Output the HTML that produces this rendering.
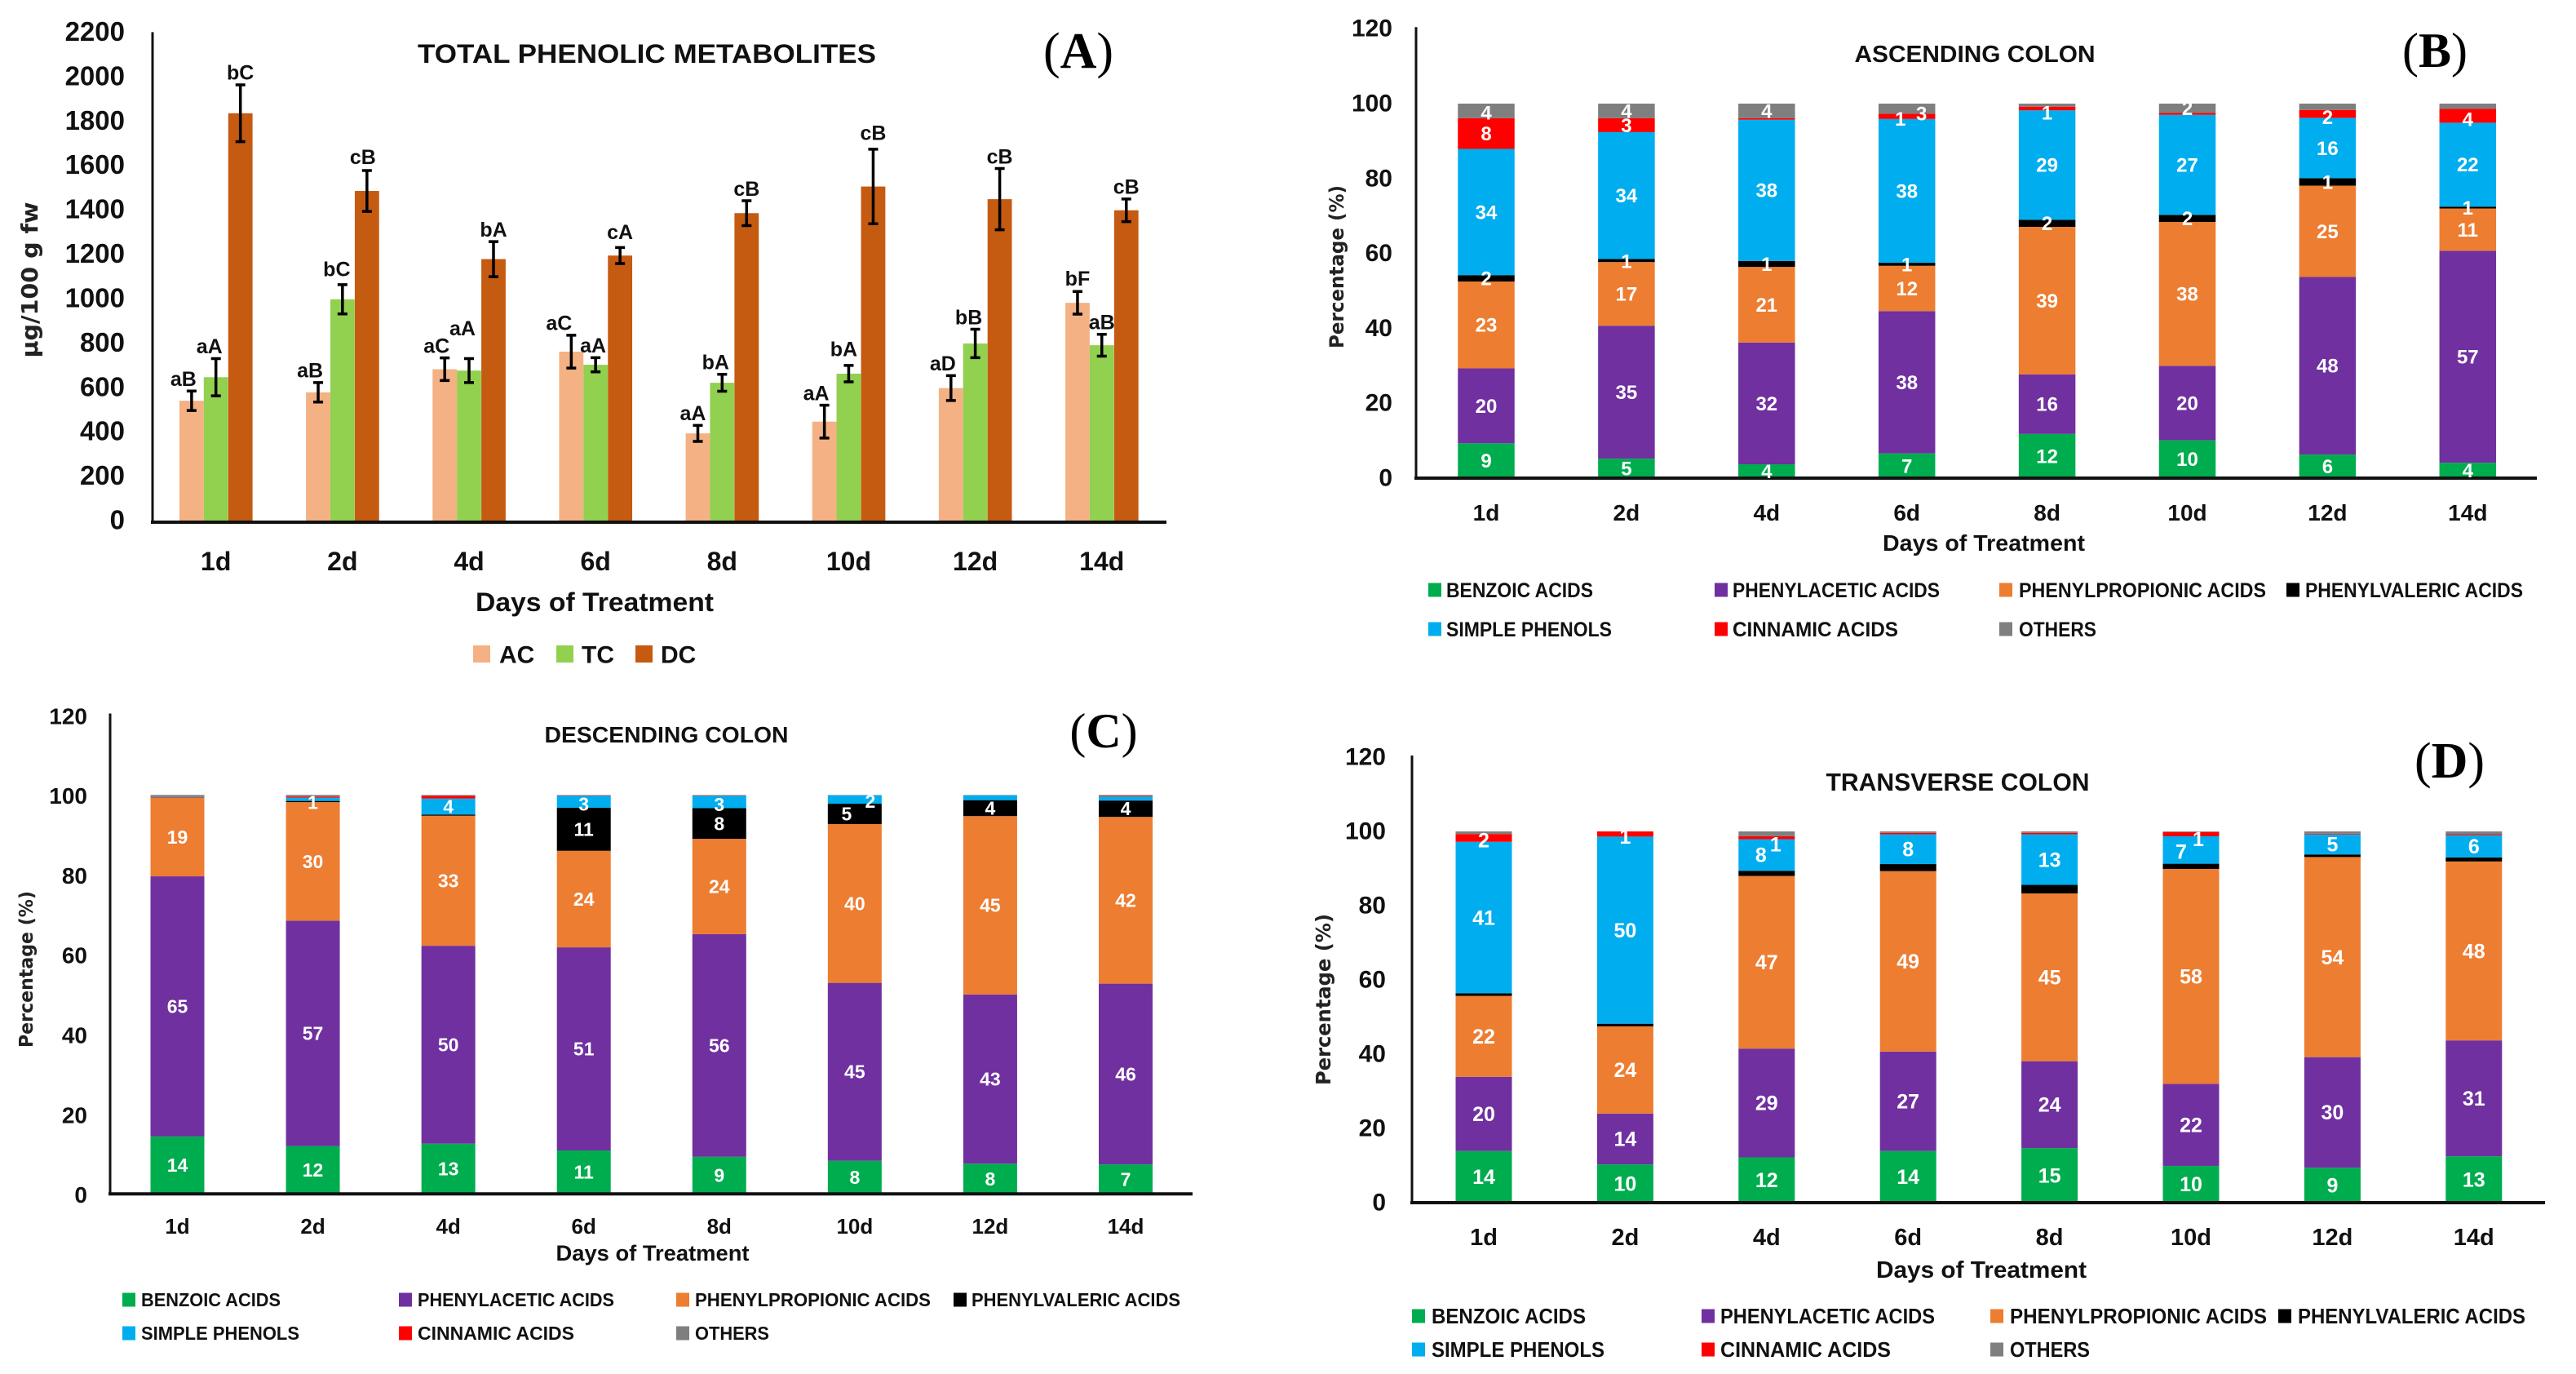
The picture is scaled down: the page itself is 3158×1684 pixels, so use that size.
<!DOCTYPE html>
<html lang="en">
<head>
<meta charset="utf-8">
<title>Phenolic metabolites by colon region</title>
<style>
  html, body { margin: 0; padding: 0; background: #fff; width: 3158px; height: 1684px; overflow: hidden; }
  svg { display: block; }
  text { font-family: "Liberation Sans", "DejaVu Sans", sans-serif; fill: #111; }
  .bold { font-weight: bold; }
  .serif { font-family: "Liberation Serif", serif; fill: #000; }
  .wide { font-family: "DejaVu Sans", "Liberation Sans", sans-serif; font-weight: bold; fill: #222; }
</style>
</head>
<body>
<svg id="figure" xmlns="http://www.w3.org/2000/svg" width="3158" height="1684" viewBox="0 0 3158 1684">
  <rect x="0" y="0" width="3158" height="1684" fill="#ffffff"/>

  <text class="bold" x="793" y="77" font-size="32" text-anchor="middle" textLength="562" lengthAdjust="spacingAndGlyphs">TOTAL PHENOLIC METABOLITES</text>
  <text class="serif" x="1322" y="83" font-size="62" text-anchor="middle">(<tspan font-weight="bold">A</tspan>)</text>
  <text class="wide" transform="translate(46,343) rotate(-90)" font-size="28" text-anchor="middle" textLength="191" lengthAdjust="spacingAndGlyphs">µg/100 g fw</text>
  <text class="bold" x="729" y="749" font-size="32" text-anchor="middle" textLength="292" lengthAdjust="spacingAndGlyphs">Days of Treatment</text>

  <text class="bold" x="2421" y="76" font-size="29" text-anchor="middle" textLength="295" lengthAdjust="spacingAndGlyphs">ASCENDING COLON</text>
  <text class="serif" x="2985" y="82" font-size="60" text-anchor="middle">(<tspan font-weight="bold">B</tspan>)</text>
  <text class="wide" transform="translate(1647,327) rotate(-90)" font-size="24" text-anchor="middle" textLength="200" lengthAdjust="spacingAndGlyphs">Percentage (%)</text>
  <text class="bold" x="2432" y="675" font-size="28" text-anchor="middle" textLength="248" lengthAdjust="spacingAndGlyphs">Days of Treatment</text>

  <text class="bold" x="817" y="910" font-size="28" text-anchor="middle" textLength="299" lengthAdjust="spacingAndGlyphs">DESCENDING COLON</text>
  <text class="serif" x="1353" y="916" font-size="60" text-anchor="middle">(<tspan font-weight="bold">C</tspan>)</text>
  <text class="wide" transform="translate(40,1188) rotate(-90)" font-size="23" text-anchor="middle" textLength="192" lengthAdjust="spacingAndGlyphs">Percentage (%)</text>
  <text class="bold" x="800" y="1545" font-size="27" text-anchor="middle" textLength="237" lengthAdjust="spacingAndGlyphs">Days of Treatment</text>

  <text class="bold" x="2400" y="969" font-size="31" text-anchor="middle" textLength="323" lengthAdjust="spacingAndGlyphs">TRANSVERSE COLON</text>
  <text class="serif" x="3003" y="953" font-size="62" text-anchor="middle">(<tspan font-weight="bold">D</tspan>)</text>
  <text class="wide" transform="translate(1631,1225) rotate(-90)" font-size="25" text-anchor="middle" textLength="210" lengthAdjust="spacingAndGlyphs">Percentage (%)</text>
  <text class="bold" x="2429" y="1566" font-size="29" text-anchor="middle" textLength="258" lengthAdjust="spacingAndGlyphs">Days of Treatment</text>
</svg>

<script>
// ---------- shared categories and ticks ----------
const categories = ['1d', '2d', '4d', '6d', '8d', '10d', '12d', '14d'];
const totalTicks = [0, 200, 400, 600, 800, 1000, 1200, 1400, 1600, 1800, 2000, 2200];
const percentTicks = [0, 20, 40, 60, 80, 100, 120];
const stackSeriesNames = ['BENZOIC ACIDS', 'PHENYLACETIC ACIDS', 'PHENYLPROPIONIC ACIDS', 'PHENYLVALERIC ACIDS', 'SIMPLE PHENOLS', 'CINNAMIC ACIDS', 'OTHERS'];

// ---------- panel A values (µg/100 g fw) ----------
const acValues = [547, 585, 689, 768, 400, 453, 604, 988];
const tcValues = [653, 1004, 683, 709, 628, 669, 805, 797];
const dcValues = [1842, 1492, 1185, 1201, 1392, 1512, 1455, 1405];
const acErrors = [44, 44, 51, 74, 36, 74, 56, 51];
const tcErrors = [84, 66, 54, 32, 38, 37, 64, 49];
const dcErrors = [128, 92, 79, 36, 56, 168, 138, 51];
const acLetters = ['aB', 'aB', 'aC', 'aC', 'aA', 'aA', 'aD', 'bF'];
const tcLetters = ['aA', 'bC', 'aA', 'aA', 'bA', 'bA', 'bB', 'aB'];
const dcLetters = ['bC', 'cB', 'bA', 'cA', 'cB', 'cB', 'cB', 'cB'];

// ---------- panel B values (%) ----------
const bBenzoic = [9.3, 5.2, 3.7, 6.6, 11.8, 10.1, 6.3, 4.1];
const bAcetic = [20, 35.5, 32.5, 38, 15.9, 19.9, 47.4, 56.6];
const bPropionic = [23.2, 17, 20.2, 12.1, 39.4, 38.4, 24.4, 11.3];
const bValeric = [1.7, 0.8, 1.6, 0.8, 1.9, 1.9, 2, 0.5];
const bSimple = [33.7, 33.9, 37.7, 38.4, 29.2, 26.7, 16.1, 22.4];
const bCinnamic = [8.2, 3.7, 0.4, 1.4, 1, 0.5, 2.1, 3.7];
const bOthers = [3.9, 3.9, 3.9, 2.7, 0.8, 2.5, 1.7, 1.4];
const bBenzoicPrinted = [9, 5, 4, 7, 12, 10, 6, 4];
const bAceticPrinted = [20, 35, 32, 38, 16, 20, 48, 57];
const bPropionicPrinted = [23, 17, 21, 12, 39, 38, 25, 11];
const bValericPrinted = [2, 1, 1, 1, 2, 2, 1, 1];
const bSimplePrinted = [34, 34, 38, 38, 29, 27, 16, 22];
const bCinnamicPrinted = [8, 3, null, 1, 1, null, 2, 4];
const bOthersPrinted = [4, 4, 4, 3, null, 2, null, null];

// ---------- panel C values (%) ----------
const cBenzoic = [14.4, 12, 12.6, 10.9, 9.3, 8.3, 7.6, 7.4];
const cAcetic = [65.2, 56.5, 49.6, 50.9, 55.8, 44.6, 42.4, 45.3];
const cPropionic = [19.7, 29.7, 32.6, 24.2, 23.9, 39.8, 44.7, 41.8];
const cValeric = [0.1, 0.3, 0.3, 10.8, 7.7, 5.1, 4, 4.1];
const cSimple = [0.1, 0.8, 4, 3, 3.1, 2.1, 1.2, 1];
const cCinnamic = [0.1, 0.3, 0.7, 0.1, 0.1, 0, 0, 0.2];
const cOthers = [0.4, 0.4, 0.2, 0.1, 0.1, 0.1, 0.1, 0.2];
const cBenzoicPrinted = [14, 12, 13, 11, 9, 8, 8, 7];
const cAceticPrinted = [65, 57, 50, 51, 56, 45, 43, 46];
const cPropionicPrinted = [19, 30, 33, 24, 24, 40, 45, 42];
const cValericPrinted = [null, null, null, 11, 8, 5, 4, 4];
const cSimplePrinted = [null, 1, 4, 3, 3, 2, null, null];
const cCinnamicPrinted = [null, null, null, null, null, null, null, null];
const cOthersPrinted = [null, null, null, null, null, null, null, null];

// ---------- panel D values (%) ----------
const dBenzoic = [13.9, 10.3, 12.2, 13.9, 14.7, 9.9, 9.4, 12.5];
const dAcetic = [20, 13.7, 29.3, 26.8, 23.4, 22.1, 29.8, 31.2];
const dPropionic = [21.8, 23.5, 46.5, 48.6, 45.2, 57.9, 53.9, 48.2];
const dValeric = [0.7, 0.7, 1.4, 1.9, 2.3, 1.4, 0.7, 1.1];
const dSimple = [40.8, 50.4, 8.5, 8, 13.6, 7.4, 5.4, 6];
const dCinnamic = [2.1, 1.4, 0.8, 0.4, 0.4, 1.1, 0.2, 0.3];
const dOthers = [0.7, 0, 1.3, 0.4, 0.4, 0.2, 0.6, 0.7];
const dBenzoicPrinted = [14, 10, 12, 14, 15, 10, 9, 13];
const dAceticPrinted = [20, 14, 29, 27, 24, 22, 30, 31];
const dPropionicPrinted = [22, 24, 47, 49, 45, 58, 54, 48];
const dValericPrinted = [null, null, null, null, null, null, null, null];
const dSimplePrinted = [41, 50, 8, 8, 13, 7, 5, 6];
const dCinnamicPrinted = [2, 1, 1, null, null, 1, null, null];
const dOthersPrinted = [null, null, null, null, null, null, null, null];

// ---------- drawing ----------
const NS = 'http://www.w3.org/2000/svg';
const svg = document.getElementById('figure');
const stackColors = ['#00AD4E', '#7030A0', '#ED7D31', '#000000', '#00AEEF', '#FF0000', '#7F7F7F'];

function make(tag, attrs, parent) {
  const el = document.createElementNS(NS, tag);
  Object.keys(attrs).forEach(function (k) { el.setAttribute(k, attrs[k]); });
  (parent || svg).appendChild(el);
  return el;
}
function makeText(str, x, cy, size, attrs, parent) {
  const el = make('text', Object.assign({ x: x, y: cy + size * 0.35, 'font-size': size }, attrs), parent);
  el.textContent = str;
  return el;
}
function drawAxes(p, key, ticks) {
  const vAxis = make('line', { x1: p.axisX, x2: p.axisX, y1: p.y(ticks[ticks.length - 1]) - 2, y2: p.baseline, stroke: '#111', 'stroke-width': 3 });
  
  
  ticks.forEach(function (t) {
    const lab = makeText(String(t), p.tickRight, p.y(t) + p.tickDy, p.tickSize, { 'text-anchor': 'end', class: 'bold' });
    
    
  });
  categories.forEach(function (c, i) {
    const lab = makeText(c, p.x(i), p.catY, p.catSize, { 'text-anchor': 'middle', class: 'bold' });
    
    
  });
}
function drawBaseline(p, key) {
  const hAxis = make('line', { x1: p.axisX - 2, x2: p.right, y1: p.baseline, y2: p.baseline, stroke: '#111', 'stroke-width': 4 });
  
  
}

// ----- Panel A: grouped bars -----
const panelA = {
  axisX: 187, baseline: 640, right: 1430, tickRight: 153, tickSize: 33, tickDy: -3, catY: 688, catSize: 32,
  x: function (i) { return 264.7 + 155.15 * i; },
  y: function (v) { return 640 - v * 598.6 / 2200; }
};
const groupNames = ['AC', 'TC', 'DC'];
const groupColors = ['#F4B183', '#92D050', '#C55A11'];
const groupValues = [acValues, tcValues, dcValues];
const groupErrors = [acErrors, tcErrors, dcErrors];
const groupLetters = [acLetters, tcLetters, dcLetters];
const barOffsetsA = [-44.7, -14.9, 15.1];
const barWidthA = 29.8;
const letterDefaultDx = [-10, -8, 0];
const letterNudges = { '0-3': [-5, 0], '0-4': [4, 0], '0-7': [10, -1], '1-1': [1, -4], '1-2': [0, -22], '1-3': [5, 0], '1-5': [2, -5], '1-7': [8, 0], '2-1': [-5, -2], '2-5': [0, -5], '2-3': [0, -4] };

drawAxes(panelA, 'panel-a', totalTicks);
groupNames.forEach(function (name, s) {
  categories.forEach(function (c, i) {
    const left = panelA.x(i) + barOffsetsA[s];
    const top = panelA.y(groupValues[s][i]);
    const bar = make('rect', { x: left, y: top, width: barWidthA, height: panelA.baseline - top, fill: groupColors[s] });
    
    
  });
});
groupNames.forEach(function (name, s) {
  categories.forEach(function (c, i) {
    const cx = panelA.x(i) + barOffsetsA[s] + barWidthA / 2;
    const hiY = panelA.y(groupValues[s][i] + groupErrors[s][i]);
    const loY = panelA.y(groupValues[s][i] - groupErrors[s][i]);
    const err = make('path', { d: 'M' + (cx - 6) + ' ' + hiY + 'H' + (cx + 6) + 'M' + cx + ' ' + hiY + 'V' + loY + 'M' + (cx - 6) + ' ' + loY + 'H' + (cx + 6), stroke: '#000', 'stroke-width': 3.5, fill: 'none' });
    
    
    const nudge = letterNudges[s + '-' + i] || [0, 0];
    const lab = makeText(groupLetters[s][i], cx + letterDefaultDx[s] + nudge[0], hiY - 15 + nudge[1], 25, { 'text-anchor': 'middle', class: 'bold' });
    
    
  });
});
drawBaseline(panelA, 'panel-a');

const legendSwatchA = [580, 682, 779];
const legendTextA = [612, 713, 810];
groupNames.forEach(function (name, s) {
  const sw = make('rect', { x: legendSwatchA[s], y: 791, width: 21, height: 21, fill: groupColors[s] });
  
  
  const t = makeText(name, legendTextA[s], 802, 30, { class: 'bold' });
  
  
});

// ----- Panels B, C, D: stacked bars -----
function drawStack(key, p, series, printed, nudges) {
  drawAxes(p, key, percentTicks);
  categories.forEach(function (c, i) {
    let cumulative = 0;
    series.forEach(function (values, s) {
      const v = values[i];
      const yTop = p.y(cumulative + v);
      const yBottom = p.y(cumulative);
      cumulative += v;
      const seg = make('rect', { x: p.x(i) - p.barWidth / 2, y: yTop, width: p.barWidth, height: Math.max(0, yBottom - yTop), fill: stackColors[s] });
      
      
    });
  });
  drawBaseline(p, key);
  categories.forEach(function (c, i) {
    let cumulative = 0;
    series.forEach(function (values, s) {
      const v = values[i];
      const mid = p.y(cumulative + v / 2);
      cumulative += v;
      if (printed[s][i] === null) return;
      const nudge = nudges[s + '-' + i] || [0, 0];
      const lab = makeText(String(printed[s][i]), p.x(i) + nudge[0], mid + nudge[1], p.labelSize, { 'text-anchor': 'middle', class: 'bold', style: 'fill:#fff' });
      
      
    });
  });
  stackSeriesNames.forEach(function (name, s) {
    const col = s < 4 ? s : s - 4;
    const rowY = s < 4 ? p.legendRows[0] : p.legendRows[1];
    const sw = make('rect', { x: p.legendSwatch[col], y: rowY - 8.5, width: 16, height: 17, fill: stackColors[s] });
    
    
    const t = makeText(name, p.legendText[col], rowY, p.legendSize, { class: 'bold', textLength: p.legendWidths[s], lengthAdjust: 'spacingAndGlyphs' });
    
    
  });
}

const panelB = {
  axisX: 1736, baseline: 586, right: 3110, tickRight: 1707, tickSize: 30, tickDy: -1, catY: 628, catSize: 28, barWidth: 69.5, labelSize: 24,
  x: function (i) { return 1822 + 171.9 * i; },
  y: function (v) { return 586 - v * 4.59; },
  legendRows: [723, 771], legendSize: 25,
  legendSwatch: [1751, 2102, 2451, 2803], legendText: [1773, 2124, 2475, 2826],
  legendWidths: [180, 254, 303, 267, 203, 203, 95]
};
drawStack('panel-b', panelB,
  [bBenzoic, bAcetic, bPropionic, bValeric, bSimple, bCinnamic, bOthers],
  [bBenzoicPrinted, bAceticPrinted, bPropionicPrinted, bValericPrinted, bSimplePrinted, bCinnamicPrinted, bOthersPrinted],
  { '5-3': [-8, 3], '6-3': [18, 6], '5-4': [0, 5], '6-0': [0, 2], '3-1': [0, 1], '5-6': [0, 4], '5-7': [0, 4] });

const panelC = {
  axisX: 135, baseline: 1463.3, right: 1462, tickRight: 107, tickSize: 28, tickDy: 1, catY: 1503, catSize: 26, barWidth: 66, labelSize: 23,
  x: function (i) { return 217.5 + 166.07 * i; },
  y: function (v) { return 1463.3 - v * 4.89; },
  legendRows: [1593, 1634], legendSize: 23,
  legendSwatch: [150, 489, 829, 1169], legendText: [173, 512, 852, 1191],
  legendWidths: [171, 241, 289, 256, 194, 192, 91]
};
drawStack('panel-c', panelC,
  [cBenzoic, cAcetic, cPropionic, cValeric, cSimple, cCinnamic, cOthers],
  [cBenzoicPrinted, cAceticPrinted, cPropionicPrinted, cValericPrinted, cSimplePrinted, cCinnamicPrinted, cOthersPrinted],
  { '3-5': [-10, 0], '4-5': [19, 2], '4-1': [0, 4], '4-3': [0, 3], '4-4': [0, 3] });

const panelD = {
  axisX: 1731, baseline: 1474, right: 3120, tickRight: 1699, tickSize: 30, tickDy: -1, catY: 1516, catSize: 29, barWidth: 69, labelSize: 25,
  x: function (i) { return 1819 + 173.4 * i; },
  y: function (v) { return 1474 - v * 4.55; },
  legendRows: [1613, 1654], legendSize: 26,
  legendSwatch: [1731, 2086, 2440, 2793], legendText: [1755, 2109, 2464, 2817],
  legendWidths: [189, 263, 315, 279, 212, 209, 98]
};
drawStack('panel-d', panelD,
  [dBenzoic, dAcetic, dPropionic, dValeric, dSimple, dCinnamic, dOthers],
  [dBenzoicPrinted, dAceticPrinted, dPropionicPrinted, dValericPrinted, dSimplePrinted, dCinnamicPrinted, dOthersPrinted],
  { '4-2': [-7, 0], '5-2': [11, 8], '4-5': [-12, 2], '5-5': [9, 6], '5-0': [0, 3], '5-1': [0, 3] });
</script>
</body>
</html>
